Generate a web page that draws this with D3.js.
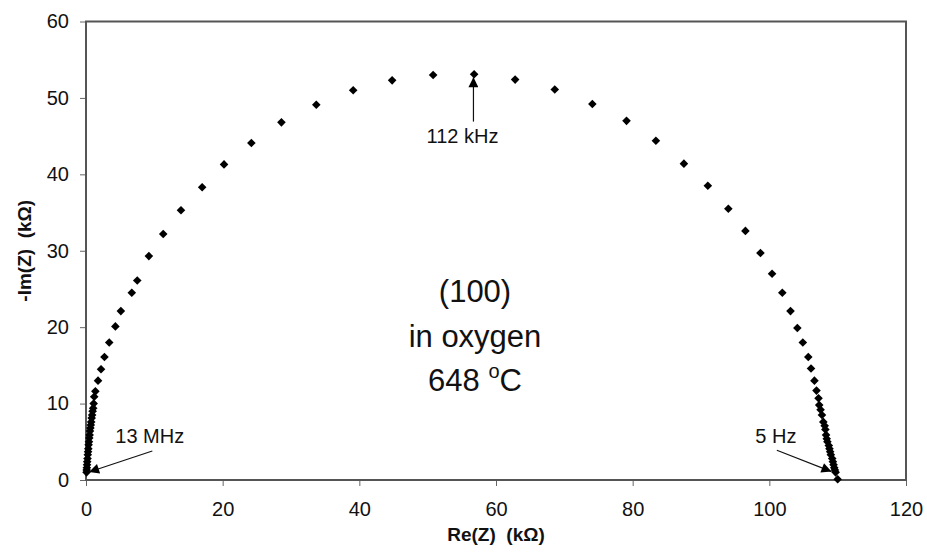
<!DOCTYPE html>
<html lang="en">
<head>
<meta charset="UTF-8">
<title>Impedance spectrum (100) in oxygen</title>
<script src="https://d3js.org/d3.v7.min.js"></script>
<style>
    body { margin: 0; background: #fff; }
    svg { display: block; font-family: "Liberation Sans", Arial, sans-serif; }
    .tick text { font-size: 20px; fill: #111; }
    .tick line { stroke: #666; }
    .axis-title { font-size: 19px; font-weight: bold; fill: #111; white-space: pre; }
    .note { font-size: 20px; fill: #111; }
    .big { font-size: 31px; fill: #111; }
</style>
</head>
<body>
<svg id="chart" width="927" height="558"></svg>
<script>
// Nyquist data, Re(Z) and -Im(Z) in kOhm, high frequency on the left
const reZ = [0.08, 0.10, 0.12, 0.15, 0.18, 0.22, 0.26, 0.30, 0.34, 0.38,
    0.43, 0.48, 0.53, 0.58, 0.64, 0.70, 0.76, 0.83, 0.90, 0.97,
    1.05, 1.12, 1.2, 1.37, 1.76, 2.2, 2.7, 3.4, 4.3, 5.1,
    6.7, 7.5, 9.2, 11.3, 13.9, 17.0, 20.2, 24.2, 28.6, 33.7,
    39.1, 44.8, 50.8, 56.8, 62.8, 68.6, 74.1, 79.1, 83.4, 87.5,
    91.0, 94.0, 96.5, 98.7, 100.4, 101.9, 103.1, 104.1, 104.9, 105.7,
    106.1, 106.6, 106.9, 107.2, 107.3, 107.5, 107.7, 107.9, 108.1, 108.2,
    108.3, 108.4, 108.5, 108.7, 108.8, 108.9, 109.0, 109.2, 109.3, 109.4,
    109.5, 109.6, 109.7, 110.0];
const imZ = [1.0, 1.3, 1.6, 2.0, 2.4, 2.8, 3.3, 3.7, 4.1, 4.6,
    5.0, 5.5, 5.9, 6.4, 6.8, 7.2, 7.6, 8.1, 8.5, 9.0,
    9.4, 10.0, 10.9, 11.6, 13.0, 14.5, 16.1, 18.0, 20.1, 22.1,
    24.5, 26.1, 29.3, 32.2, 35.3, 38.3, 41.3, 44.1, 46.8, 49.1,
    51.0, 52.3, 53.0, 53.1, 52.4, 51.1, 49.2, 47.0, 44.4, 41.4,
    38.5, 35.5, 32.6, 29.7, 27.0, 24.5, 22.1, 19.9, 18.0, 16.1,
    14.6, 13.0, 11.7, 10.7, 9.8, 9.2, 8.5, 7.6, 7.1, 6.6,
    5.9, 5.4, 5.0, 4.5, 4.1, 3.7, 3.3, 2.8, 2.4, 2.0,
    1.6, 1.3, 1.0, 0.1];

const xTicks = [0, 20, 40, 60, 80, 100, 120];
const yTicks = [0, 10, 20, 30, 40, 50, 60];

// frequency annotations: label, arrow tail [re, im], arrow tip [re, im]
const notes = [
    { label: "13 MHz", tail: [9.7, 3.8], tip: [0.45, 1.05] },
    { label: "112 kHz", tail: [56.7, 46.9], tip: [56.7, 52.7] },
    { label: "5 Hz", tail: [101.1, 3.9], tip: [109.1, 1.1] }
];
const sampleLines = ["(100)", "in oxygen", "648 "];

const svg = d3.select("#chart");
const margin = { left: 86, top: 21.5, right: 21, bottom: 78 };
const width = 927, height = 558;

const x = d3.scaleLinear().domain([0, 120]).range([margin.left, width - margin.right]);
const y = d3.scaleLinear().domain([0, 60]).range([height - margin.bottom, margin.top]);

// axes
svg.append("g")
    .attr("transform", `translate(0,${y(0)})`)
    .call(d3.axisBottom(x).tickValues(xTicks).tickSize(6).tickPadding(16))
    .call(g => g.select(".domain").remove());

svg.append("g")
    .attr("transform", `translate(${x(0)},0)`)
    .call(d3.axisLeft(y).tickValues(yTicks).tickSize(6).tickPadding(11))
    .call(g => g.select(".domain").remove());

// plot frame
svg.append("rect")
    .attr("x", x(0)).attr("y", y(60))
    .attr("width", x(120) - x(0)).attr("height", y(0) - y(60))
    .attr("fill", "none")
    .attr("stroke", "#555")
    .attr("stroke-width", 2);

// diamond markers
const pts = reZ.map((d, i) => [d, imZ[i]]);
const r = 4.3;
svg.append("g").selectAll("path")
    .data(pts)
    .enter().append("path")
    .attr("d", d => `M${x(d[0])},${y(d[1]) - r}L${x(d[0]) + r},${y(d[1])}L${x(d[0])},${y(d[1]) + r}L${x(d[0]) - r},${y(d[1])}Z`)
    .attr("fill", "#000");

// arrows
svg.append("defs").append("marker")
    .attr("id", "head")
    .attr("viewBox", "0 0 10 10")
    .attr("refX", 10).attr("refY", 5)
    .attr("markerWidth", 13).attr("markerHeight", 10)
    .attr("markerUnits", "userSpaceOnUse")
    .attr("orient", "auto")
    .append("path")
    .attr("d", "M0,0L10,5L0,10Z")
    .attr("fill", "#000");

svg.append("g").selectAll("line")
    .data(notes)
    .enter().append("line")
    .attr("x1", d => x(d.tail[0])).attr("y1", d => y(d.tail[1]))
    .attr("x2", d => x(d.tip[0])).attr("y2", d => y(d.tip[1]))
    .attr("stroke", "#111")
    .attr("stroke-width", 1.2)
    .attr("marker-end", "url(#head)");

// label positions next to each arrow tail
const labelPos = [[x(notes[0].tail[0]) - 37, 442.7, "start"],
                  [x(notes[1].tail[0]) - 11, 143.3, "middle"],
                  [x(notes[2].tail[0]) - 1, 442.7, "middle"]];
svg.append("g").selectAll("text")
    .data(notes)
    .enter().append("text")
    .attr("class", "note")
    .attr("x", (d, i) => labelPos[i][0])
    .attr("y", (d, i) => labelPos[i][1])
    .attr("text-anchor", (d, i) => labelPos[i][2])
    .text(d => d.label);

// sample description
const desc = svg.append("text")
    .attr("class", "big")
    .attr("text-anchor", "middle");
sampleLines.forEach((s, i) => {
    desc.append("tspan")
        .attr("x", 475)
        .attr("y", 302 + i * 44.5)
        .text(s);
    if (i === 2) {
        desc.append("tspan").attr("dy", -13).attr("font-size", 20).text("o");
        desc.append("tspan").attr("dy", 13).text("C");
    }
});

// axis titles
svg.append("text")
    .attr("class", "axis-title")
    .attr("x", (x(0) + x(120)) / 2)
    .attr("y", 541)
    .attr("text-anchor", "middle")
    .text("Re(Z)\u00A0\u00A0(k\u03A9)");

svg.append("text")
    .attr("class", "axis-title")
    .attr("transform", `translate(31,${(y(0) + y(60)) / 2}) rotate(-90)`)
    .attr("text-anchor", "middle")
    .text("-Im(Z)\u00A0\u00A0(k\u03A9)");
</script>
</body>
</html>
